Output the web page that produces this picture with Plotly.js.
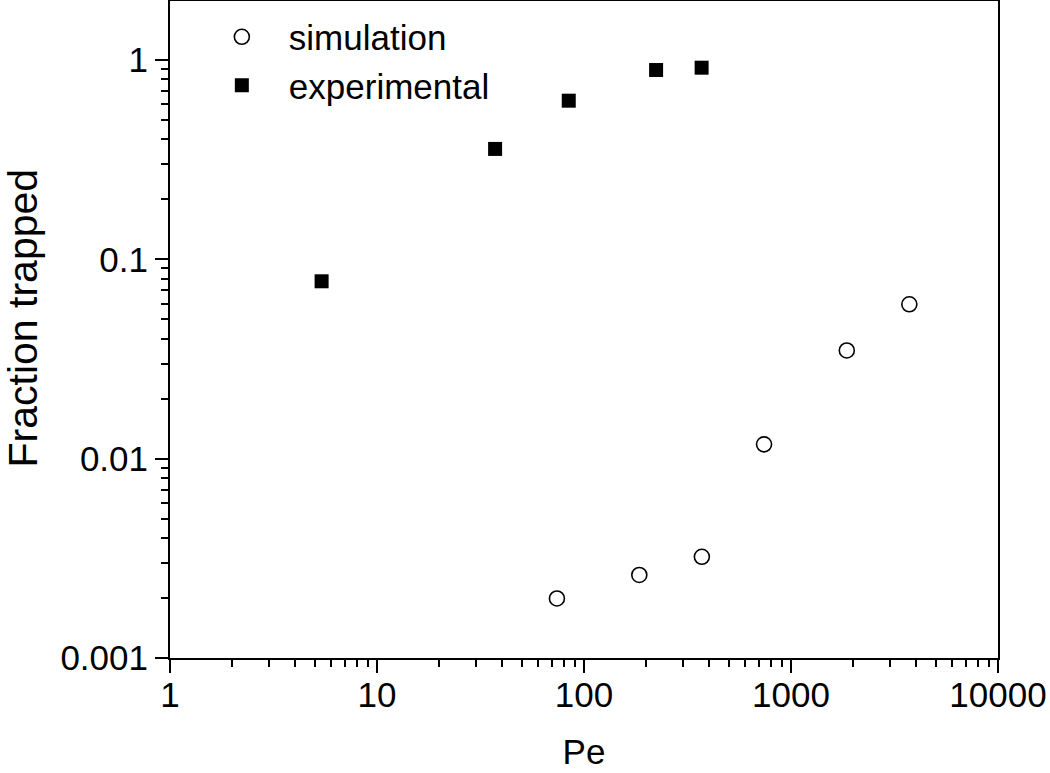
<!DOCTYPE html>
<html>
<head>
<meta charset="utf-8">
<script src="https://cdn.plot.ly/plotly-3.0.1.min.js"></script>
<style>html,body{margin:0;padding:0;background:#fff;}#chart{width:1050px;height:773px;}</style>
</head>
<body>
<div id="chart"></div>
<script>
// Simulation series
const simPe = [74, 185, 371, 741, 1860, 3730];
const simFraction = [0.00199, 0.00261, 0.00322, 0.0118, 0.0349, 0.0595];
// Experimental series
const expPe = [5.4, 37.2, 84.4, 223, 370];
const expFraction = [0.0776, 0.358, 0.625, 0.891, 0.915];
// Tick labels
const xTickVals = [1, 10, 100, 1000, 10000];
const xTickText = ['1', '10', '100', '1000', '10000'];
const yTickVals = [0.001, 0.01, 0.1, 1];
const yTickText = ['0.001', '0.01', '0.1', '1'];

const FONT = 'Liberation Sans, Arial, sans-serif';

const traces = [
  {
    x: simPe, y: simFraction, name: 'simulation', type: 'scatter', mode: 'markers',
    marker: {symbol: 'circle-open', size: 15, color: '#000', line: {width: 1.6, color: '#000'}}
  },
  {
    x: expPe, y: expFraction, name: 'experimental', type: 'scatter', mode: 'markers',
    marker: {symbol: 'square', size: 14, color: '#000'}
  }
];

const axisCommon = {
  type: 'log',
  showgrid: false,
  zeroline: false,
  showline: true,
  linecolor: '#000',
  linewidth: 2,
  mirror: true,
  ticks: 'outside',
  ticklen: 13,
  tickwidth: 2,
  tickcolor: '#000',
  tickmode: 'array',
  tickfont: {family: FONT, size: 35, color: '#000'},
  minor: {dtick: 'D1', ticks: 'outside', ticklen: 7, tickwidth: 2, tickcolor: '#000', showgrid: false}
};

const layout = {
  width: 1050, height: 773,
  paper_bgcolor: '#fff', plot_bgcolor: '#fff',
  margin: {l: 170, r: 52, t: 1, b: 115},
  showlegend: true,
  legend: {
    x: 0.030, y: 0.99, xanchor: 'left', yanchor: 'top',
    bgcolor: 'rgba(0,0,0,0)', borderwidth: 0,
    font: {family: FONT, size: 35, color: '#000'},
    itemwidth: 84
  },
  xaxis: Object.assign({}, axisCommon, {
    range: [0, 4],
    tickvals: xTickVals, ticktext: xTickText,
    ticklabelstandoff: -8,
    title: {text: 'Pe', font: {family: FONT, size: 35, color: '#000'}, standoff: 26}
  }),
  yaxis: Object.assign({}, axisCommon, {
    range: [-3, 0.296],
    tickvals: yTickVals, ticktext: yTickText
  }),
  annotations: [{
    text: 'Fraction trapped', textangle: -90, showarrow: false,
    xref: 'paper', yref: 'paper', x: -0.177, y: 0.5175,
    xanchor: 'center', yanchor: 'middle',
    font: {family: FONT, size: 41, color: '#000'}
  }]
};

Plotly.newPlot('chart', traces, layout, {displayModeBar: false, staticPlot: true});
</script>
</body>
</html>
